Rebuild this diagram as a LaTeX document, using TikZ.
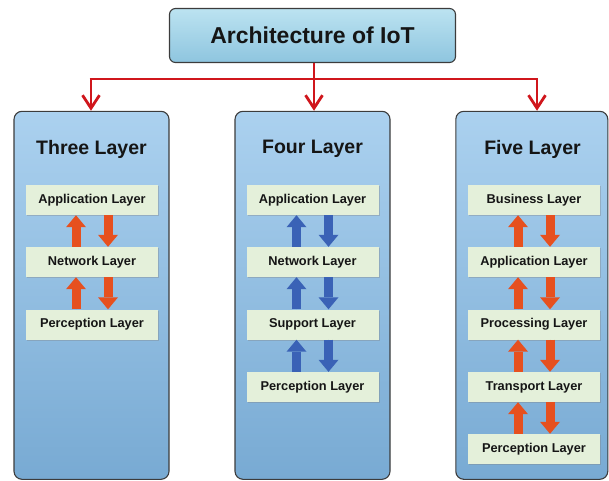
\documentclass[tikz,border=0pt]{standalone}
\usepackage{fontspec}
\setmainfont{Liberation Sans}
\usetikzlibrary{arrows.meta,shadows}

\definecolor{rootTop}{HTML}{BCE3F1}
\definecolor{rootBot}{HTML}{8EC5DF}
\definecolor{colTop}{HTML}{ABD1EF}
\definecolor{colBot}{HTML}{78AAD3}
\definecolor{layerFill}{HTML}{E4F0DA}
\definecolor{frameGray}{HTML}{3C3C3C}
\definecolor{linkRed}{HTML}{D0161C}
\definecolor{flowOrange}{HTML}{E6501F}
\definecolor{flowBlue}{HTML}{3A62B6}
\definecolor{inkBlack}{HTML}{151515}

\tikzset{
  rootbox/.style={draw=frameGray, line width=1.1pt, rounded corners=6pt,
    top color=rootTop, bottom color=rootBot,
    minimum width=286pt, minimum height=54pt, inner sep=0pt,
    font=\bfseries\fontsize{23}{26}\selectfont, text=inkBlack},
  columnbox/.style={draw=frameGray, line width=1.1pt, rounded corners=8pt,
    top color=colTop, bottom color=colBot,
    minimum height=368pt, inner sep=0pt},
  coltitle/.style={font=\bfseries\fontsize{19.5}{22}\selectfont, text=inkBlack},
  layerbox/.style={fill=layerFill, minimum width=132pt, minimum height=30pt,
    inner sep=0pt, font=\bfseries\fontsize{12.8}{14}\selectfont, text=inkBlack,
    drop shadow={shadow xshift=1.2pt, shadow yshift=-1.2pt, opacity=0.35}},
  redline/.style={draw=linkRed, line width=2.8pt},
  redarrow/.style={redline, -{Straight Barb[length=13pt,width=17pt]}},
  flowup/.style={line width=9pt, -{Triangle[length=12pt,width=20pt,line width=0pt]}},
  orangeflow/.style={flowup, draw=flowOrange, fill=flowOrange},
  blueflow/.style={flowup, draw=flowBlue, fill=flowBlue},
}

\begin{document}
\begin{tikzpicture}[x=1pt,y=-1pt]
\useasboundingbox (0,0) rectangle (609,480);

% root
\node[rootbox] (root) at (312.5,35.5) {Architecture of IoT};

% columns
\node[columnbox, minimum width=155pt] (c3) at (91.5,295.3) {};
\node[columnbox, minimum width=155pt] (c4) at (312.5,295.3) {};
\node[columnbox, minimum width=152pt] (c5) at (531.8,295.3) {};

\node[coltitle] (t3) at (91.5,149) {Three Layer};
\node[coltitle] (t4) at (312.5,149) {Four Layer};
\node[coltitle] (t5) at (532.5,149) {Five Layer};

% red distribution lines
\coordinate (hub) at (314,79);
\coordinate (j3) at (91,79);
\coordinate (j4) at (314,79);
\coordinate (j5) at (537,79);
\draw[redline] (root.south -| hub) -- (hub);
\draw[redline, line cap=butt] ([xshift=-1.4pt]j3) -- ([xshift=1.4pt]j5);
\draw[redarrow] (j3) -- (j3 |- c3.north);
\draw[redarrow] (j4) -- (j4 |- c4.north);
\draw[redarrow] (j5) -- (j5 |- c5.north);

% three layer model
\node[layerbox] (a3) at (92,200) {Application Layer};
\node[layerbox] (n3) at (92,262) {Network Layer};
\node[layerbox] (p3) at (92,324.5) {Perception Layer};

% four layer model
\node[layerbox] (a4) at (312.5,200) {Application Layer};
\node[layerbox] (n4) at (312.5,262) {Network Layer};
\node[layerbox] (s4) at (312.5,324.5) {Support Layer};
\node[layerbox] (p4) at (312.5,387) {Perception Layer};

% five layer model
\node[layerbox] (b5) at (534,200) {Business Layer};
\node[layerbox] (a5) at (534,262) {Application Layer};
\node[layerbox] (r5) at (534,324.5) {Processing Layer};
\node[layerbox] (t5l) at (534,387) {Transport Layer};
\node[layerbox] (p5) at (534,449) {Perception Layer};

% flow arrows between layers
\foreach \lo/\hi in {n3/a3, p3/n3, r5/a5, a5/b5, t5l/r5, p5/t5l} {
  \draw[orangeflow] ([xshift=-16pt]\lo.north) -- ([xshift=-16pt]\hi.south);
  \draw[orangeflow] ([xshift=16pt]\hi.south) -- ([xshift=16pt]\lo.north);
}
\foreach \lo/\hi in {n4/a4, s4/n4, p4/s4} {
  \draw[blueflow] ([xshift=-16pt]\lo.north) -- ([xshift=-16pt]\hi.south);
  \draw[blueflow] ([xshift=16pt]\hi.south) -- ([xshift=16pt]\lo.north);
}
\end{tikzpicture}
\end{document}
